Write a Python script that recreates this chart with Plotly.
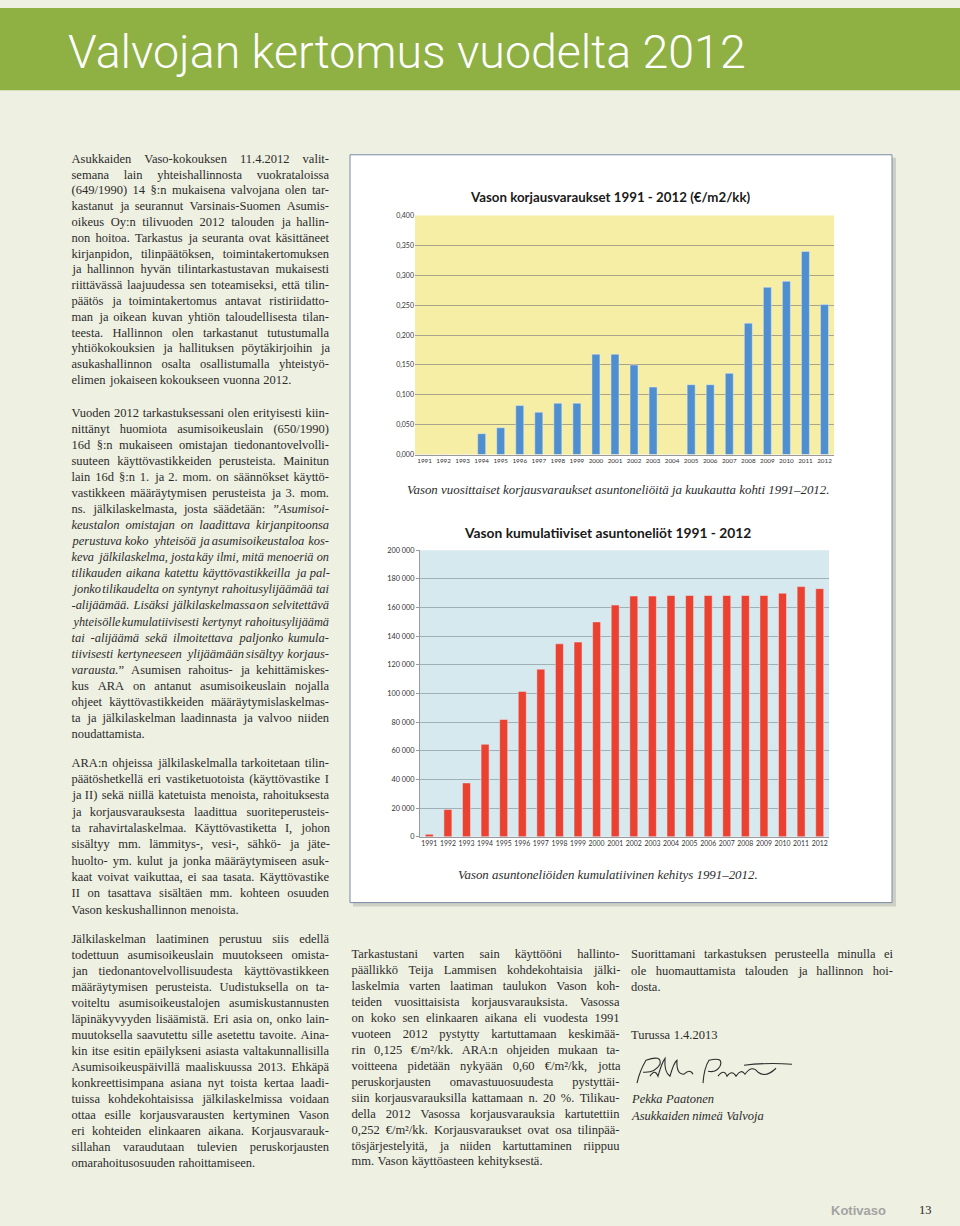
import json
import re
import plotly.graph_objects as go

W, H = 960, 1226

# ---------------- data ----------------
years = [str(y) for y in range(1991, 2013)]
korjausvaraukset = [0, 0, 0, 0.035, 0.045, 0.082, 0.071, 0.086, 0.086, 0.168, 0.168,
                    0.150, 0.113, 0, 0.117, 0.117, 0.136, 0.220, 0.280, 0.290, 0.340, 0.251]
kumulatiiviset = [1800, 19100, 37600, 64600, 81900, 101500, 117000, 134700, 135900, 150000,
                  161700, 168000, 168000, 168400, 168400, 168400, 168400, 168400, 168400,
                  170000, 174600, 173200]

chart1_title = "Vason korjausvaraukset 1991 - 2012 (€/m2/kk)"
chart2_title = "Vason kumulatiiviset asuntoneliöt 1991 - 2012"
caption1 = "Vason vuosittaiset korjausvaraukset asuntoneliöitä ja kuukautta kohti 1991–2012."
caption2 = "Vason asuntoneliöiden kumulatiivinen kehitys 1991–2012."
page_title = "Valvojan kertomus vuodelta 2012"

para1 = [
    "Asukkaiden Vaso-kokouksen 11.4.2012 valit-",
    "semana lain yhteishallinnosta vuokrataloissa",
    "(649/1990) 14 §:n mukaisena valvojana olen tar-",
    "kastanut ja seurannut Varsinais-Suomen Asumis-",
    "oikeus Oy:n tilivuoden 2012 talouden ja hallin-",
    "non hoitoa. Tarkastus ja seuranta ovat käsittäneet",
    "kirjanpidon, tilinpäätöksen, toimintakertomuksen",
    "ja hallinnon hyvän tilintarkastustavan mukaisesti",
    "riittävässä laajuudessa sen toteamiseksi, että tilin-",
    "päätös ja toimintakertomus antavat ristiriidatto-",
    "man ja oikean kuvan yhtiön taloudellisesta tilan-",
    "teesta. Hallinnon olen tarkastanut tutustumalla",
    "yhtiökokouksien ja hallituksen pöytäkirjoihin ja",
    "asukashallinnon osalta osallistumalla yhteistyö-",
    "elimen jokaiseen kokoukseen vuonna 2012.",
]
para2 = [
    "Vuoden 2012 tarkastuksessani olen erityisesti kiin-",
    "nittänyt huomiota asumisoikeuslain (650/1990)",
    "16d §:n mukaiseen omistajan tiedonantovelvolli-",
    "suuteen käyttövastikkeiden perusteista. Mainitun",
    "lain 16d §:n 1. ja 2. mom. on säännökset käyttö-",
    "vastikkeen määräytymisen perusteista ja 3. mom.",
    "ns. jälkilaskelmasta, josta säädetään: <i>”Asumisoi-</i>",
    "<i>keustalon omistajan on laadittava kirjanpitoonsa</i>",
    "<i>perustuva koko yhteisöä ja asumisoikeustaloa kos-</i>",
    "<i>keva jälkilaskelma, josta käy ilmi, mitä menoeriä on</i>",
    "<i>tilikauden aikana katettu käyttövastikkeilla ja pal-</i>",
    "<i>jonko tilikaudelta on syntynyt rahoitusylijäämää tai</i>",
    "<i>-alijäämää. Lisäksi jälkilaskelmassa on selvitettävä</i>",
    "<i>yhteisölle kumulatiivisesti kertynyt rahoitusylijäämä</i>",
    "<i>tai -alijäämä sekä ilmoitettava paljonko kumula-</i>",
    "<i>tiivisesti kertyneeseen ylijäämään sisältyy korjaus-</i>",
    "<i>varausta.</i>” Asumisen rahoitus- ja kehittämiskes-",
    "kus ARA on antanut asumisoikeuslain nojalla",
    "ohjeet käyttövastikkeiden määräytymislaskelmas-",
    "ta ja jälkilaskelman laadinnasta ja valvoo niiden",
    "noudattamista.",
]
para3 = [
    "ARA:n ohjeissa jälkilaskelmalla tarkoitetaan tilin-",
    "päätöshetkellä eri vastiketuotoista (käyttövastike I",
    "ja II) sekä niillä katetuista menoista, rahoituksesta",
    "ja korjausvarauksesta laadittua suoriteperusteis-",
    "ta rahavirtalaskelmaa. Käyttövastiketta I, johon",
    "sisältyy mm. lämmitys-, vesi-, sähkö- ja jäte-",
    "huolto- ym. kulut ja jonka määräytymiseen asuk-",
    "kaat voivat vaikuttaa, ei saa tasata. Käyttövastike",
    "II on tasattava sisältäen mm. kohteen osuuden",
    "Vason keskushallinnon menoista.",
]
para4 = [
    "Jälkilaskelman laatiminen perustuu siis edellä",
    "todettuun asumisoikeuslain muutokseen omista-",
    "jan tiedonantovelvollisuudesta käyttövastikkeen",
    "määräytymisen perusteista. Uudistuksella on ta-",
    "voiteltu asumisoikeustalojen asumiskustannusten",
    "läpinäkyvyyden lisäämistä. Eri asia on, onko lain-",
    "muutoksella saavutettu sille asetettu tavoite. Aina-",
    "kin itse esitin epäilykseni asiasta valtakunnallisilla",
    "Asumisoikeuspäivillä maaliskuussa 2013. Ehkäpä",
    "konkreettisimpana asiana nyt toista kertaa laadi-",
    "tuissa kohdekohtaisissa jälkilaskelmissa voidaan",
    "ottaa esille korjausvarausten kertyminen Vason",
    "eri kohteiden elinkaaren aikana. Korjausvarauk-",
    "sillahan varaudutaan tulevien peruskorjausten",
    "omarahoitusosuuden rahoittamiseen.",
]
para5 = [
    "Tarkastustani varten sain käyttööni hallinto-",
    "päällikkö Teija Lammisen kohdekohtaisia jälki-",
    "laskelmia varten laatiman taulukon Vason koh-",
    "teiden vuosittaisista korjausvarauksista. Vasossa",
    "on koko sen elinkaaren aikana eli vuodesta 1991",
    "vuoteen 2012 pystytty kartuttamaan keskimää-",
    "rin 0,125 €/m²/kk. ARA:n ohjeiden mukaan ta-",
    "voitteena pidetään nykyään 0,60 €/m²/kk, jotta",
    "peruskorjausten omavastuuosuudesta pystyttäi-",
    "siin korjausvarauksilla kattamaan n. 20 %. Tilikau-",
    "della 2012 Vasossa korjausvarauksia kartutettiin",
    "0,252 €/m²/kk. Korjausvaraukset ovat osa tilinpää-",
    "tösjärjestelyitä, ja niiden kartuttaminen riippuu",
    "mm. Vason käyttöasteen kehityksestä.",
]
para6 = [
    "Suorittamani tarkastuksen perusteella minulla ei",
    "ole huomauttamista talouden ja hallinnon hoi-",
    "dosta.",
]
place_date = "Turussa 1.4.2013"
signer = ["Pekka Paatonen", "Asukkaiden nimeä Valvoja"]

# ---------------- helpers ----------------
def fx(x):
    return x / W

def fy(y):
    return 1 - y / H

BG = "#eef0e2"
GREEN = "#8fb043"
TXT = "#2b2b2b"
SERIF = "Liberation Serif"
BODY = 12.5
MINGAP = 3.2
SPACE_EM = 0.28

# approximate Times-compatible advance widths (1/1000 em), used for initial placement
_REG = {' ': 250, ',': 250, '.': 250, '-': 333, '/': 278, ':': 278, ';': 278, '(': 333, ')': 333,
        '§': 500, '€': 500, '²': 300, '”': 444, '–': 500, '%': 833,
        'A': 722, 'B': 667, 'C': 667, 'D': 722, 'E': 611, 'F': 556, 'G': 722, 'H': 722, 'I': 333,
        'J': 389, 'K': 722, 'L': 611, 'M': 889, 'N': 722, 'O': 722, 'P': 556, 'Q': 722, 'R': 667,
        'S': 556, 'T': 611, 'U': 722, 'V': 722, 'W': 944, 'X': 722, 'Y': 722, 'Z': 611,
        'a': 444, 'b': 500, 'c': 444, 'd': 500, 'e': 444, 'f': 333, 'g': 500, 'h': 500, 'i': 278,
        'j': 278, 'k': 500, 'l': 278, 'm': 778, 'n': 500, 'o': 500, 'p': 500, 'q': 500, 'r': 333,
        's': 389, 't': 278, 'u': 500, 'v': 500, 'w': 722, 'x': 500, 'y': 500, 'z': 444,
        'ä': 444, 'ö': 500, 'å': 444, 'Ä': 722, 'Ö': 722}
_ITA = dict(_REG)
_ITA.update({':': 333, ';': 333, '”': 556,
             'A': 611, 'B': 611, 'F': 611, 'J': 444, 'K': 667, 'L': 556, 'M': 833, 'N': 667,
             'P': 611, 'R': 611, 'S': 500, 'T': 556, 'V': 611, 'W': 833, 'X': 611, 'Y': 556, 'Z': 556,
             'a': 500, 'f': 278, 'k': 444, 'm': 722, 'r': 389, 'v': 444, 'w': 667, 'x': 444,
             'y': 444, 'z': 389, 'ä': 500})
for d in "0123456789":
    _REG[d] = 500
    _ITA[d] = 500


def tokenize(line):
    words, italic = [], False
    for raw in line.split(' '):
        segs = []
        for p in re.split(r'(<i>|</i>)', raw):
            if p == '<i>':
                italic = True
            elif p == '</i>':
                italic = False
            elif p:
                segs.append((p, italic))
        words.append(segs)
    return words


def seg_width(segs, size):
    w = 0
    for t, it in segs:
        tab = _ITA if it else _REG
        w += sum(tab.get(c, 500) for c in t)
    return w * size / 1000.0


def seg_html(segs):
    return ''.join(f'<i>{t}</i>' if it else t for t, it in segs)


fig = go.Figure()

fig.add_trace(go.Bar(x=years, y=korjausvaraukset, marker_color="#4f8fcf",
                     xaxis="x", yaxis="y", width=0.42, showlegend=False))
fig.add_trace(go.Bar(x=years, y=kumulatiiviset, marker_color="#ea4130",
                     xaxis="x2", yaxis="y2", width=0.43, showlegend=False))

shapes = []
shapes.append(dict(type="rect", xref="paper", yref="paper", x0=0, x1=1,
                   y0=fy(86), y1=fy(3), fillcolor=GREEN, line_width=0, layer="below"))
shapes.append(dict(type="rect", xref="paper", yref="paper", x0=fx(353), x1=fx(896),
                   y0=fy(909), y1=fy(154), fillcolor="#cdd0c4", line_width=0, layer="below"))
shapes.append(dict(type="rect", xref="paper", yref="paper", x0=fx(350), x1=fx(892),
                   y0=fy(905), y1=fy(151), fillcolor="white",
                   line=dict(color="#7b8aa8", width=1), layer="below"))
shapes.append(dict(type="rect", xref="paper", yref="paper", x0=fx(415), x1=fx(834),
                   y0=fy(453.3), y1=fy(212.3), fillcolor="#f7eea6", line_width=0, layer="below"))
shapes.append(dict(type="rect", xref="paper", yref="paper", x0=fx(420), x1=fx(829),
                   y0=fy(838.7), y1=fy(549.7), fillcolor="#d6e9ef", line_width=0, layer="below"))


def pth(cmds):
    out = []
    for c in cmds:
        if isinstance(c, str):
            out.append(c)
        else:
            out.append(f"{fx(c[0]):.5f},{fy(c[1]):.5f}")
    return " ".join(out)

# signature strokes (decorative)
sig1 = ["M", (637, 1087), "Q", (640, 1074), (646, 1064), "Q", (662, 1058), (660, 1068),
        "Q", (655, 1077), (643, 1076), "M", (650, 1080), "Q", (655, 1072), (658, 1080),
        "Q", (662, 1066), (665, 1062), "Q", (664, 1076), (670, 1080), "Q", (674, 1066), (677, 1064),
        "Q", (676, 1078), (684, 1078), "Q", (690, 1072), (693, 1078)]
sig2 = ["M", (703, 1087), "Q", (704, 1072), (709, 1064), "Q", (724, 1060), (720, 1070),
        "Q", (716, 1077), (708, 1075), "M", (718, 1080), "Q", (724, 1072), (727, 1080),
        "Q", (732, 1073), (736, 1080), "Q", (741, 1072), (745, 1078), "Q", (752, 1068), (758, 1076),
        "Q", (766, 1082), (776, 1072), "M", (744, 1069), "Q", (768, 1066), (792, 1068)]
for s in (sig1, sig2):
    shapes.append(dict(type="path", xref="paper", yref="paper", path=pth(s),
                       line=dict(color="#2d2d2d", width=1.1)))

ann = []
line_specs = []   # [x0, justify_width or None, [annotation indices], font size]


def add_text(x, y, text, size=BODY, color=TXT, family=SERIF, xanchor="left"):
    ann.append(dict(x=fx(x), y=fy(y), xref="paper", yref="paper", text=text,
                    showarrow=False, xanchor=xanchor, yanchor="middle", align="left",
                    borderpad=0, borderwidth=0,
                    font=dict(size=size, color=color, family=family)))
    return len(ann) - 1


def add_para(lines, x0, x1, y0, y1):
    n = len(lines)
    step = (y1 - y0) / (n - 1) if n > 1 else 0
    colw = x1 - x0
    for i, line in enumerate(lines):
        y = y0 + i * step
        words = tokenize(line)
        size = BODY
        widths = [seg_width(w, size) for w in words]
        last = (i == n - 1) or len(words) == 1
        if last:
            gap = SPACE_EM * size
        else:
            need = colw - MINGAP * (len(words) - 1)
            if sum(widths) > need:
                size = round(size * need / sum(widths), 3)
                widths = [seg_width(w, size) for w in words]
            gap = (colw - sum(widths)) / (len(words) - 1)
        x = x0
        idx = []
        for w, ww in zip(words, widths):
            idx.append(add_text(x, y, seg_html(w), size=size))
            x += ww + gap
        line_specs.append([x0, None if last else colw, idx, size])


def add_line(x0, y, text, italic=False):
    words = text.split(' ')
    x = x0
    idx = []
    for w in words:
        segs = [(w, italic)]
        idx.append(add_text(x, y, seg_html(segs)))
        x += seg_width(segs, BODY) + SPACE_EM * BODY
    line_specs.append([x0, None, idx, BODY])

ann.append(dict(x=fx(66), y=fy(47), xref="paper", yref="paper", text=page_title,
                showarrow=False, xanchor="left", yanchor="middle",
                font=dict(size=46.5, color="white", family="Roboto", weight=300)))

add_para(para1, 71.5, 329, 155, 378)
add_para(para2, 71.5, 329, 411, 735)
add_para(para3, 71.5, 329, 764, 912)
add_para(para4, 71.5, 329, 942, 1168)
add_para(para5, 351.5, 619.5, 957, 1166)
add_para(para6, 631, 893, 957, 990)
add_line(631, 1038, place_date)
add_line(631, 1103, signer[0], italic=True)
add_line(631, 1120, signer[1], italic=True)

add_text(618, 489, "<i>" + caption1 + "</i>", size=12.9, xanchor="center")
add_text(608, 877, "<i>" + caption2 + "</i>", size=12.9, xanchor="center")

ann.append(dict(x=fx(610), y=fy(194), xref="paper", yref="paper", text="<b>" + chart1_title + "</b>",
                showarrow=False, xanchor="center", yanchor="middle",
                font=dict(size=13.3, color="#1a1a1a", family="Lato")))
ann.append(dict(x=fx(607), y=fy(532), xref="paper", yref="paper", text="<b>" + chart2_title + "</b>",
                showarrow=False, xanchor="center", yanchor="middle",
                font=dict(size=13.8, color="#1a1a1a", family="Lato")))

add_text(858, 1215, "<b>Kotivaso</b>", size=13, color="#a3a3a3", family="Liberation Sans", xanchor="center")
add_text(925, 1215, "13", size=12.5, color="#222222", xanchor="center")

fig.update_layout(
    width=W, height=H, margin=dict(l=0, r=0, t=0, b=0),
    paper_bgcolor=BG, plot_bgcolor="rgba(0,0,0,0)",
    separators=", ",
    shapes=shapes, annotations=ann, bargap=0.55,
    xaxis=dict(domain=[fx(415), fx(834)], anchor="y", type="category", tickangle=0,
               tickfont=dict(size=6.3, family="Lato", color="#333"), ticks="",
               showline=True, linecolor="#9a9a9a", linewidth=1, fixedrange=True),
    yaxis=dict(domain=[fy(453.3), fy(212.3)], anchor="x", range=[0, 0.4], dtick=0.05,
               tickformat=".3f", tickfont=dict(size=7, family="Lato", color="#333"),
               showgrid=True, gridcolor="#a8a48a", gridwidth=1, zeroline=False,
               ticks="", fixedrange=True),
    xaxis2=dict(domain=[fx(420), fx(829)], anchor="y2", type="category", tickangle=0,
                tickfont=dict(size=6.9, family="Lato", color="#333"), ticks="",
                showline=True, linecolor="#9a9a9a", linewidth=1, fixedrange=True),
    yaxis2=dict(domain=[fy(838.7), fy(549.7)], anchor="x2", range=[0, 200000], dtick=20000,
                tickformat=",d", tickfont=dict(size=7.3, family="Lato", color="#333"),
                showgrid=True, gridcolor="#9fb0b6", gridwidth=1, zeroline=False,
                showline=True, linecolor="#9a9a9a", linewidth=1,
                ticks="outside", ticklen=3, tickcolor="#9a9a9a", fixedrange=True),
)

post = """
(function(){
var L = %s;
var MINGAP = %s, SPACE_EM = %s;
var gd = document.getElementById('{plot_id}');
document.body.style.margin = '0px';
document.body.style.overflow = 'hidden';
function just(){
  try {
  var map = {};
  gd.querySelectorAll('g.annotation').forEach(function(g){ map[g.getAttribute('data-index')] = g; });
  var lines = [];
  L.forEach(function(spec){
    var items = [];
    spec[2].forEach(function(i){
      var g = map[String(i)];
      if (!g) return;
      var t = g.querySelector('text.annotation-text');
      if (!t) return;
      g.removeAttribute('transform');
      t.style.fontSize = spec[3] + 'px';
      items.push({g: g, t: t});
    });
    lines.push({spec: spec, items: items, size: spec[3]});
  });
  lines.forEach(function(ln){
    var spec = ln.spec, items = ln.items;
    if (spec[1] === null || items.length < 2) return;
    var total = 0;
    items.forEach(function(it){ total += it.t.getComputedTextLength(); });
    var need = spec[1] - MINGAP * (items.length - 1);
    if (total > need) {
      ln.size = spec[3] * need / total;
      items.forEach(function(it){ it.t.style.fontSize = ln.size + 'px'; });
    }
  });
  var gl = gd.getBoundingClientRect().left;
  lines.forEach(function(ln){
    ln.items.forEach(function(it){
      it.left = it.t.getBoundingClientRect().left - gl;
      it.w = it.t.getComputedTextLength();
    });
  });
  lines.forEach(function(ln){
    var items = ln.items, spec = ln.spec;
    if (!items.length) return;
    var total = 0;
    items.forEach(function(it){ total += it.w; });
    var gap = ln.size * SPACE_EM;
    if (spec[1] !== null && items.length > 1) {
      gap = (spec[1] - total) / (items.length - 1);
    }
    var x = spec[0];
    items.forEach(function(it){
      it.g.setAttribute('transform', 'translate(' + (x - it.left) + ',0)');
      x += it.w + gap;
    });
  });
  } catch (e) {}
}
just();
setTimeout(just, 30);
setTimeout(just, 300);
})();
""" % (json.dumps(line_specs), MINGAP, SPACE_EM)

fig.write_html("out.html", post_script=post, config={"displayModeBar": False})
